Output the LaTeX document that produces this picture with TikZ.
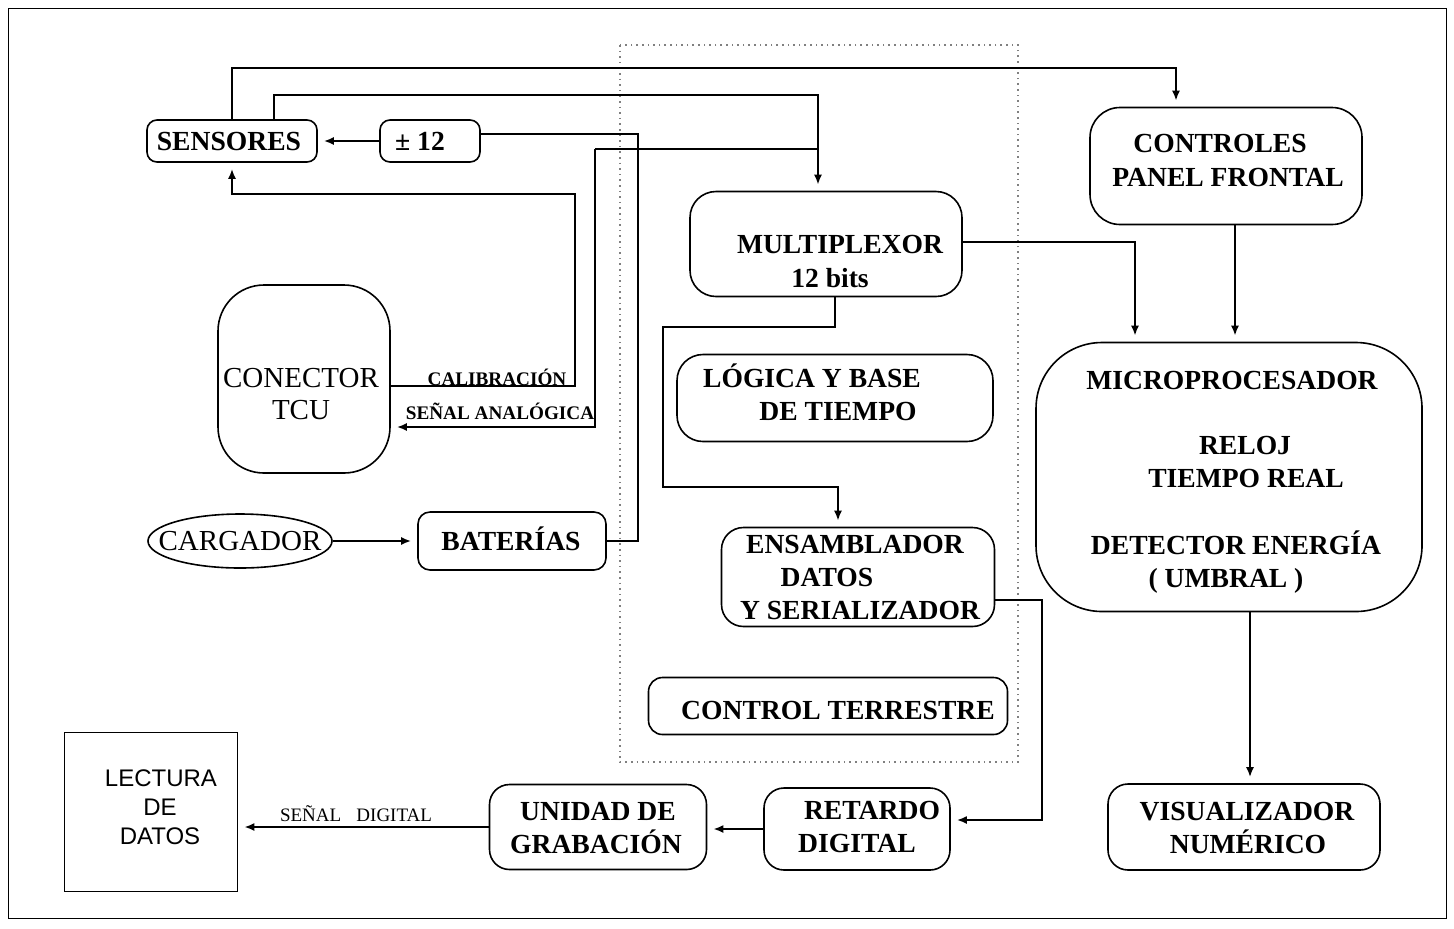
\documentclass[tikz,border=0pt]{standalone}
\usepackage{fontspec}
\setmainfont{Liberation Serif}
\newfontfamily\lsans{Liberation Sans}
\usetikzlibrary{arrows.meta,shapes.geometric}
\begin{document}
\begin{tikzpicture}[x=0.5pt,y=-0.5pt,
 box/.style={draw, line width=0.8pt, inner sep=0pt, rounded corners=#1},
 box/.default=6pt,
 txt/.style={inner sep=0pt, font=\fontsize{13.8}{16}\selectfont\bfseries, text height=9.2pt, text depth=0pt},
 rtxt/.style={inner sep=0pt, font=\fontsize{14.5}{16}\selectfont, text height=9.5pt, text depth=0pt},
 stxt/.style={inner sep=0pt, font=\fontsize{9.6}{11}\selectfont\bfseries, text height=6.4pt, text depth=0pt},
 dtxt/.style={inner sep=0pt, font=\fontsize{9.5}{11}\selectfont, text height=6.3pt, text depth=0pt},
 sans/.style={inner sep=0pt, font=\fontsize{12}{14}\selectfont\lsans, text height=8.6pt, text depth=0pt},
 conn/.style={line width=1pt},
 arr/.style={conn, -{Latex[length=5pt,width=4pt]}, shorten >=3pt},
]
\useasboundingbox (0,0) rectangle (1454,928);
% outer frame and dotted region
\draw[line width=0.5pt] (8,8) rectangle (1446,918);
\draw[gray, dotted, line width=0.8pt] (620,45) rectangle (1018,762);

% boxes
\node[box=5pt, minimum width=85pt, minimum height=21pt] (sens) at (232,141) {};
\node[box=5pt, minimum width=50pt, minimum height=21pt] (t12) at (430,141) {};
\node[box=15pt, minimum width=136pt, minimum height=58.5pt] (ctrl) at (1226,166) {};
\node[box=13pt, minimum width=136pt, minimum height=52.5pt] (mux) at (826,244) {};
\node[box=23pt, minimum width=86pt, minimum height=94pt] (tcu) at (304,379) {};
\node[box=13pt, minimum width=158pt, minimum height=43.5pt] (logic) at (835,398) {};
\node[box=33pt, minimum width=193pt, minimum height=134.5pt] (micro) at (1229,477) {};
\node[draw, ellipse, line width=0.8pt, inner sep=0pt, minimum width=92pt, minimum height=27pt] (carg) at (240,541) {};
\node[box=6pt, minimum width=94pt, minimum height=29pt] (bat) at (512,541) {};
\node[box=11pt, minimum width=136.5pt, minimum height=49.5pt] (ens) at (858,577) {};
\node[box=7pt, minimum width=179.5pt, minimum height=28.5pt] (cterr) at (828,706) {};
\node[draw, line width=0.8pt, inner sep=0pt, minimum width=86.5pt, minimum height=79.5pt] (lect) at (151,812) {};
\node[box=10pt, minimum width=108.5pt, minimum height=42.5pt] (unid) at (598,827) {};
\node[box=10pt, minimum width=93pt, minimum height=41pt] (ret) at (857,829) {};
\node[box=10pt, minimum width=136pt, minimum height=43pt] (vis) at (1244,827) {};

% texts
\node[txt] (tsens) at (229,141) {SENSORES};
\node[txt] (tt12) at (420,141) {± 12};
\node[txt] (tctrl1) at (1220,143) {CONTROLES};
\node[txt] (tctrl2) at (1228,177) {PANEL FRONTAL};
\node[txt] (tmux1) at (840,244) {MULTIPLEXOR};
\node[txt] (tmux2) at (830,278) {12 bits};
\node[rtxt] (ttcu1) at (301,378) {CONECTOR};
\node[rtxt] (ttcu2) at (301,410) {TCU};
\node[txt] (tlog1) at (812,378) {LÓGICA Y BASE};
\node[txt] (tlog2) at (838,411) {DE TIEMPO};
\node[txt] (tmic1) at (1232,380) {MICROPROCESADOR};
\node[txt] (tmic2) at (1245,445) {RELOJ};
\node[txt] (tmic3) at (1246,478) {TIEMPO REAL};
\node[txt] (tmic4) at (1236,545) {DETECTOR ENERGÍA};
\node[txt] (tmic5) at (1226,578) {( UMBRAL )};
\node[rtxt] (tcarg) at (240,541) {CARGADOR};
\node[txt] (tbat) at (511,541) {BATERÍAS};
\node[txt] (tens1) at (855,544) {ENSAMBLADOR};
\node[txt] (tens2) at (827,577) {DATOS};
\node[txt] (tens3) at (860,610) {Y SERIALIZADOR};
\node[txt] (tcterr) at (838,710) {CONTROL TERRESTRE};
\node[sans] (tlect1) at (161,778) {LECTURA};
\node[sans] (tlect2) at (160,807) {DE};
\node[sans] (tlect3) at (160,836) {DATOS};
\node[txt] (tunid1) at (598,811) {UNIDAD DE};
\node[txt] (tunid2) at (596,844) {GRABACIÓN};
\node[txt] (tret1) at (872,810) {RETARDO};
\node[txt] (tret2) at (857,843) {DIGITAL};
\node[txt] (tvis1) at (1247,811) {VISUALIZADOR};
\node[txt] (tvis2) at (1248,844) {NUMÉRICO};
\node[stxt] (lcal) at (497,379) {CALIBRACIÓN};
\node[stxt] (lana) at (500,413) {SEÑAL ANALÓGICA};
\node[dtxt] (ldig) at (356,815) {SEÑAL\hspace{0.8em}DIGITAL};

% connector coordinates
\coordinate (k1) at (1176,68);
\coordinate (k2) at (818,95);
\coordinate (k3) at (818,149);
\coordinate (k4) at (595,149);
\coordinate (k5) at (595,427);
\coordinate (k6) at (575,386);
\coordinate (k7) at (575,194);
\coordinate (k8) at (638,134);
\coordinate (k9) at (835,327);
\coordinate (k10) at (663,487);
\coordinate (k11) at (838,487);
\coordinate (k12) at (1135,242);
\coordinate (k13) at (1042,600);
\coordinate (k14) at (1042,820);

% connectors
\draw[arr] (sens.north) |- (k1) -- (k1 |- ctrl.north);
\draw[arr] ([xshift=21pt]sens.north) |- (k2) -- (k2 |- mux.north);
\draw[conn] (k3) -- (k4);
\draw[arr] (k4) -- (k5) -- (k5 -| tcu.east);
\draw[arr] (tcu.east |- k6) -- (k6) -- (k7) -| (sens.south);
\draw[conn] (bat.east) -| (k8) -- (k8 -| t12.east);
\draw[arr] (t12.west) -- (sens.east);
\draw[arr] (mux.south -| k9) -- (k9) -| (k10) -- (k11) -- (k11 |- ens.north);
\draw[arr] (mux.east |- k12) -- (k12) -- (k12 |- micro.north);
\draw[arr] ([xshift=4.5pt]ctrl.south) -- ([xshift=4.5pt]ctrl.south |- micro.north);
\draw[arr] ([xshift=10.5pt]micro.south) -- ([xshift=10.5pt]micro.south |- vis.north);
\draw[arr] (ens.east |- k13) -- (k13) -- (k14) -- (k14 -| ret.east);
\draw[arr] (ret.west) -- (ret.west -| unid.east);
\draw[arr] (unid.west) -- (unid.west -| lect.east);
\draw[arr] (carg.east) -- (bat.west);
\end{tikzpicture}
\end{document}
